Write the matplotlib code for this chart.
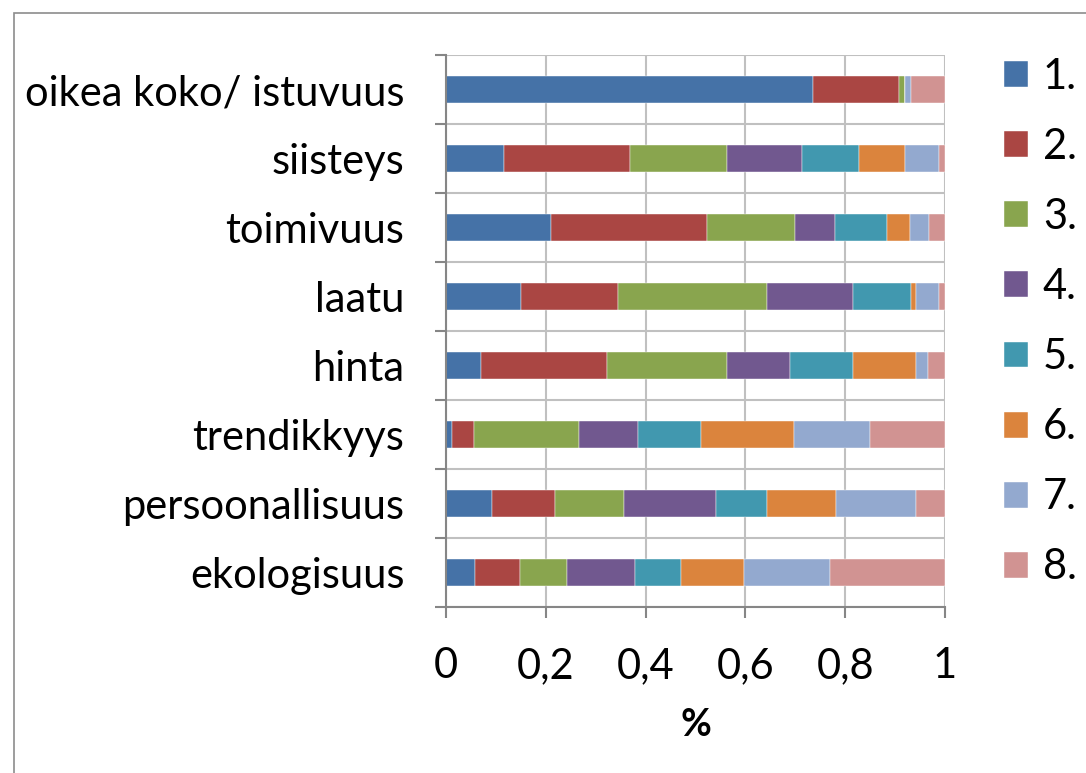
import matplotlib
matplotlib.use("Agg")
import matplotlib.pyplot as plt
from matplotlib.patches import Rectangle
import numpy as np

plt.rcParams['font.family'] = ['Lato', 'DejaVu Sans']

categories = ["oikea koko/ istuvuus", "siisteys", "toimivuus", "laatu",
              "hinta", "trendikkyys", "persoonallisuus", "ekologisuus"]
series_names = ["1.", "2.", "3.", "4.", "5.", "6.", "7.", "8."]
colors = ["#4572A7", "#AA4643", "#89A54E", "#71588F",
          "#4198AF", "#DB843D", "#93A9CF", "#D19392"]

s1 = [0.736, 0.116, 0.211, 0.150, 0.070, 0.012, 0.092, 0.058]
s2 = [0.171, 0.253, 0.312, 0.194, 0.252, 0.045, 0.126, 0.091]
s3 = [0.012, 0.195, 0.176, 0.300, 0.242, 0.210, 0.139, 0.093]
s4 = [0.000, 0.150, 0.081, 0.171, 0.125, 0.117, 0.184, 0.137]
s5 = [0.000, 0.113, 0.104, 0.116, 0.126, 0.128, 0.102, 0.092]
s6 = [0.000, 0.092, 0.046, 0.011, 0.127, 0.185, 0.138, 0.126]
s7 = [0.012, 0.069, 0.037, 0.046, 0.024, 0.152, 0.161, 0.173]
s8 = [0.069, 0.012, 0.034, 0.012, 0.034, 0.151, 0.058, 0.230]
series = [s1, s2, s3, s4, s5, s6, s7, s8]

fig = plt.figure(figsize=(10.86, 7.73), dpi=100)

# outer chart frame (partly cut off)
fig.patches.append(Rectangle((14 / 1086, -0.1), 1.2, 1 - 13 / 773 + 0.1,
                             transform=fig.transFigure, fill=False,
                             edgecolor="#8c8c8c", linewidth=1.2))

ax = fig.add_axes([446 / 1086, 1 - 607 / 773, 499 / 1086, 552 / 773])

y = np.arange(len(categories))[::-1]
left = np.zeros(len(categories))
for name, vals, col in zip(series_names, series, colors):
    vals = np.array(vals)
    ax.barh(y, vals, left=left, height=0.4, color=col, label=name,
            edgecolor="white", linewidth=0.3)
    left += vals

ax.set_xlim(0, 1)
ax.set_ylim(-0.5, len(categories) - 0.5)

ax.set_xticks(np.arange(0, 1.01, 0.2))
ax.set_xticklabels(["0", "0,2", "0,4", "0,6", "0,8", "1"], fontsize=30)
ax.set_yticks(np.arange(-0.5, len(categories), 1.0))
ax.set_yticklabels([])
ax.set_yticks(y, minor=True)
ax.set_yticklabels(categories, minor=True, fontsize=30)

ax.tick_params(axis="y", which="major", length=8, width=1.5, color="#868686", direction="out")
ax.tick_params(axis="y", which="minor", length=0, pad=30)
ax.tick_params(axis="x", which="major", length=8, width=1.5, color="#868686", direction="out", pad=21)

ax.grid(True, which="major", color="#c0c0c0", linewidth=1.5)
ax.set_axisbelow(True)
for side in ["top", "right"]:
    ax.spines[side].set_visible(False)
for side in ["left", "bottom"]:
    ax.spines[side].set_color("#868686")
    ax.spines[side].set_linewidth(1.5)

ax.set_xlabel("%", fontsize=27, fontweight="bold", labelpad=16)

leg = ax.legend(loc="upper left", bbox_to_anchor=(1.085, 1.025), frameon=False,
                fontsize=30, handlelength=0.58, handleheight=0.58,
                handletextpad=0.35, labelspacing=0.77, borderaxespad=0)

fig.savefig("out.png", dpi=100)
